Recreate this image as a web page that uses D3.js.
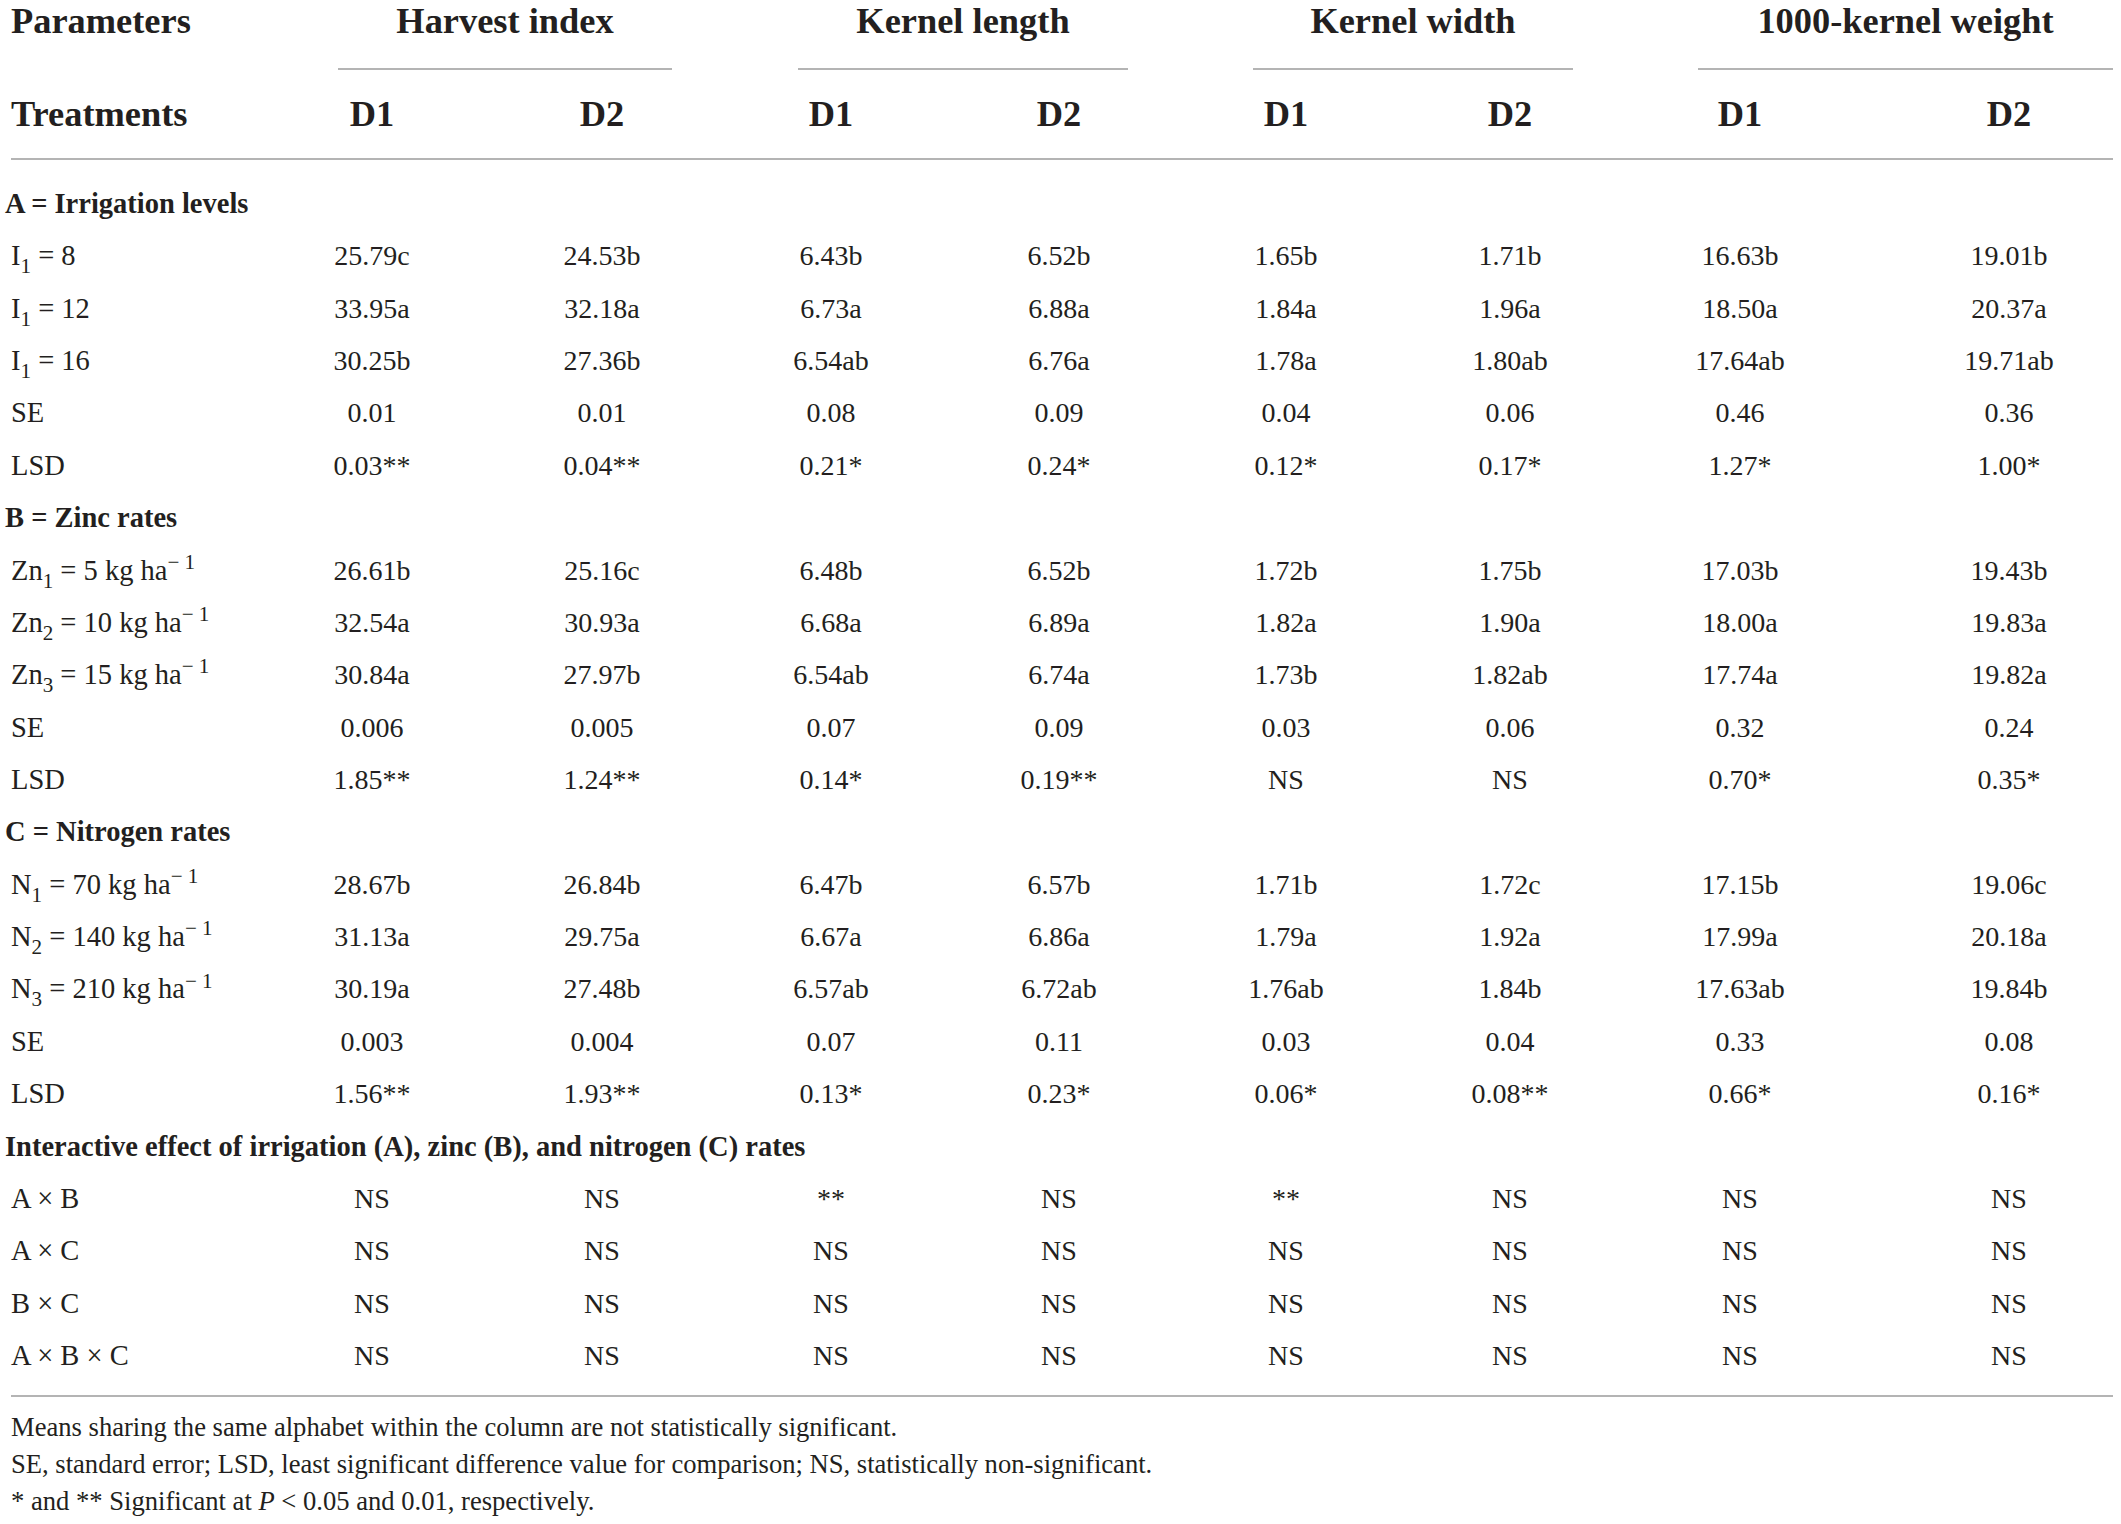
<!DOCTYPE html>
<html>
<head>
<meta charset="utf-8">
<script src="https://cdn.jsdelivr.net/npm/d3@7"></script>
<style>
  html,body{margin:0;padding:0;background:#fff;}
  svg{display:block;}
  text{font-family:"Liberation Serif","Times New Roman",serif;fill:#231f20;}
</style>
</head>
<body>
<svg id="tbl" width="2121" height="1524"></svg>
<script>
/* ---- table content ---- */
var groupNames=['Harvest index','Kernel length','Kernel width','1000-kernel weight'];
var doseLabels=['D1','D2'];
var colKeys=['hiD1','hiD2','klD1','klD2','kwD1','kwD2','tkwD1','tkwD2'];

var sectionTitles=['A = Irrigation levels','B = Zinc rates','C = Nitrogen rates',
  'Interactive effect of irrigation (A), zinc (B), and nitrogen (C) rates'];

var rowLabels=[
  'A = Irrigation levels','I_{1} = 8','I_{1} = 12','I_{1} = 16','SE','LSD',
  'B = Zinc rates','Zn_{1} = 5 kg ha^{− 1}','Zn_{2} = 10 kg ha^{− 1}','Zn_{3} = 15 kg ha^{− 1}','SE','LSD',
  'C = Nitrogen rates','N_{1} = 70 kg ha^{− 1}','N_{2} = 140 kg ha^{− 1}','N_{3} = 210 kg ha^{− 1}','SE','LSD',
  'Interactive effect of irrigation (A), zinc (B), and nitrogen (C) rates','A × B','A × C','B × C','A × B × C'
];

// one array per column, data rows only (section rows skipped)
var hiD1=['25.79c','33.95a','30.25b','0.01','0.03**','26.61b','32.54a','30.84a','0.006','1.85**','28.67b','31.13a','30.19a','0.003','1.56**','NS','NS','NS','NS'];
var hiD2=['24.53b','32.18a','27.36b','0.01','0.04**','25.16c','30.93a','27.97b','0.005','1.24**','26.84b','29.75a','27.48b','0.004','1.93**','NS','NS','NS','NS'];
var klD1=['6.43b','6.73a','6.54ab','0.08','0.21*','6.48b','6.68a','6.54ab','0.07','0.14*','6.47b','6.67a','6.57ab','0.07','0.13*','**','NS','NS','NS'];
var klD2=['6.52b','6.88a','6.76a','0.09','0.24*','6.52b','6.89a','6.74a','0.09','0.19**','6.57b','6.86a','6.72ab','0.11','0.23*','NS','NS','NS','NS'];
var kwD1=['1.65b','1.84a','1.78a','0.04','0.12*','1.72b','1.82a','1.73b','0.03','NS','1.71b','1.79a','1.76ab','0.03','0.06*','**','NS','NS','NS'];
var kwD2=['1.71b','1.96a','1.80ab','0.06','0.17*','1.75b','1.90a','1.82ab','0.06','NS','1.72c','1.92a','1.84b','0.04','0.08**','NS','NS','NS','NS'];
var tkwD1=['16.63b','18.50a','17.64ab','0.46','1.27*','17.03b','18.00a','17.74a','0.32','0.70*','17.15b','17.99a','17.63ab','0.33','0.66*','NS','NS','NS','NS'];
var tkwD2=['19.01b','20.37a','19.71ab','0.36','1.00*','19.43b','19.83a','19.82a','0.24','0.35*','19.06c','20.18a','19.84b','0.08','0.16*','NS','NS','NS','NS'];

var footnotes=[
  'Means sharing the same alphabet within the column are not statistically significant.',
  'SE, standard error; LSD, least significant difference value for comparison; NS, statistically non-significant.',
  '* and ** Significant at |P| < 0.05 and 0.01, respectively.'
];

/* ---- layout ---- */
var colData={hiD1:hiD1,hiD2:hiD2,klD1:klD1,klD2:klD2,kwD1:kwD1,kwD2:kwD2,tkwD1:tkwD1,tkwD2:tkwD2};
var x=d3.scaleOrdinal().domain(colKeys).range([372,602,831,1059,1286,1510,1740,2009]);
var spans=[[338,672],[798,1128],[1253,1573],[1698,2113]];
var y=d3.scaleLinear().domain([0,rowLabels.length-1]).range([213,1365]);
var LINE='#b4b4b4', LEFT=11;
var HEAD=36.4, LBL=28.5, VAL=28, FOOT=26.6;

var svg=d3.select('#tbl');

// text with _{sub} and ^{sup} markup
function rich(sel,str,size){
  var re=/([_^])\{([^}]*)\}/g, last=0, m, shift=0;
  function plain(s){ if(!s) return; sel.append('tspan').attr('dy',-shift).text(s); shift=0; }
  while((m=re.exec(str))!==null){
    plain(str.slice(last,m.index));
    var d=m[1]==='_'?size*0.28:-size*0.38;
    sel.append('tspan').attr('dy',d-shift).attr('font-size',size*0.74).text(m[2]);
    shift=d;
    last=re.lastIndex;
  }
  plain(str.slice(last));
}

/* header */
svg.append('text').attr('x',LEFT).attr('y',33).attr('font-size',HEAD).attr('font-weight','bold').text('Parameters');
svg.append('text').attr('x',LEFT).attr('y',126).attr('font-size',HEAD).attr('font-weight','bold').text('Treatments');

groupNames.forEach(function(g,i){
  svg.append('text').attr('x',(spans[i][0]+spans[i][1])/2).attr('y',33)
    .attr('text-anchor','middle').attr('font-size',HEAD).attr('font-weight','bold').text(g);
  svg.append('line').attr('x1',spans[i][0]).attr('x2',spans[i][1]).attr('y1',69).attr('y2',69)
    .attr('stroke',LINE).attr('stroke-width',2.2);
  doseLabels.forEach(function(dl,j){
    svg.append('text').attr('x',x(colKeys[i*2+j])).attr('y',126)
      .attr('text-anchor','middle').attr('font-size',HEAD).attr('font-weight','bold').text(dl);
  });
});

svg.append('line').attr('x1',LEFT).attr('x2',2113).attr('y1',159).attr('y2',159)
  .attr('stroke',LINE).attr('stroke-width',2.2);

/* body */
var di=0;
rowLabels.forEach(function(lbl,i){
  var isSec=sectionTitles.indexOf(lbl)>=0;
  var t=svg.append('text').attr('x',isSec?5:LEFT).attr('y',y(i)).attr('font-size',LBL)
    .attr('font-weight',isSec?'bold':'normal');
  rich(t,lbl,LBL);
  if(isSec) return;
  var k=di;
  colKeys.forEach(function(c){
    svg.append('text').attr('x',x(c)).attr('y',y(i)).attr('text-anchor','middle')
      .attr('font-size',VAL).text(colData[c][k]);
  });
  di++;
});

svg.append('line').attr('x1',LEFT).attr('x2',2113).attr('y1',1396).attr('y2',1396)
  .attr('stroke',LINE).attr('stroke-width',2.2);

/* footnotes */
var fy=d3.scaleLinear().domain([0,footnotes.length-1]).range([1436,1510]);
footnotes.forEach(function(f,i){
  var t=svg.append('text').attr('x',LEFT).attr('y',fy(i)).attr('font-size',FOOT);
  f.split('|').forEach(function(part,j){
    t.append('tspan').attr('font-style',j%2?'italic':'normal').text(part);
  });
});
</script>
</body>
</html>
